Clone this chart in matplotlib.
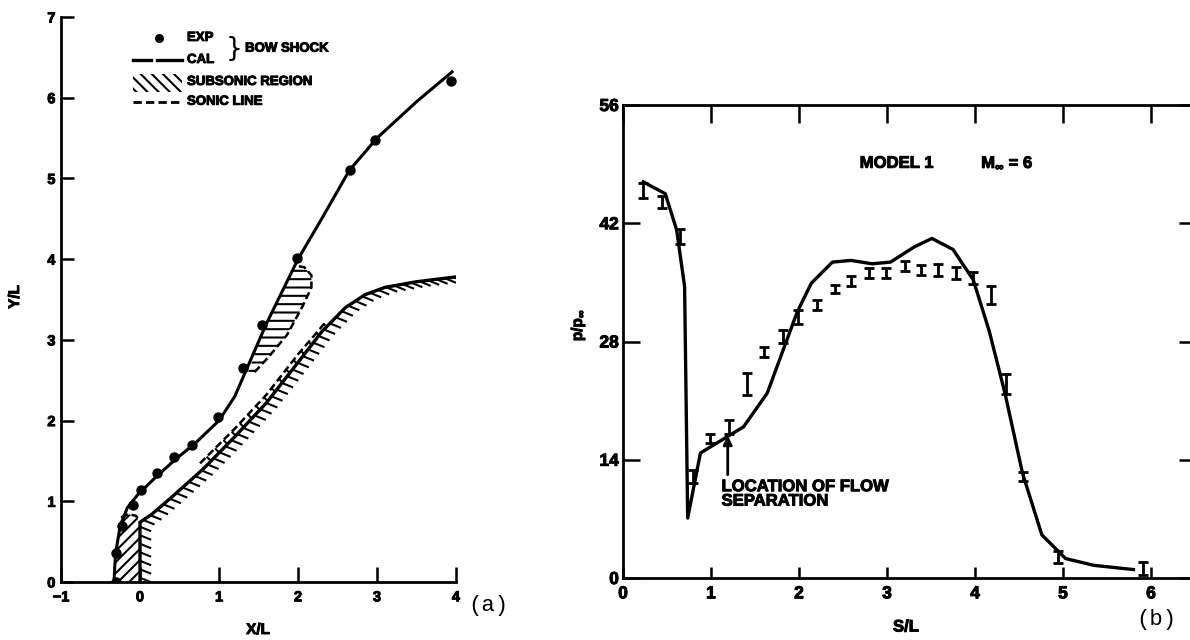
import matplotlib
matplotlib.use("Agg")
import numpy as np
import matplotlib.pyplot as plt
import matplotlib.patheffects as pe
from matplotlib.collections import LineCollection
from matplotlib.patches import Polygon, Rectangle

plt.rcParams['font.family'] = ['Liberation Sans', 'DejaVu Sans']
plt.rcParams['font.weight'] = 'bold'
plt.rcParams['hatch.linewidth'] = 1.5
plt.rcParams['mathtext.fontset'] = 'custom'
plt.rcParams['mathtext.rm'] = 'Liberation Sans:bold'
plt.rcParams['mathtext.it'] = 'Liberation Sans:bold'
plt.rcParams['mathtext.bf'] = 'Liberation Sans:bold'

HEAVY = [pe.withStroke(linewidth=0.7, foreground='black')]

# ---- panel (a): bow shock around the body ----
exp_x = [-0.31, -0.31, -0.23, -0.09, 0.01, 0.22, 0.43, 0.66, 0.99, 1.31, 1.55, 1.99, 2.66, 2.97, 3.94]
exp_y = [0.0, 0.36, 0.70, 0.95, 1.14, 1.35, 1.55, 1.70, 2.04, 2.65, 3.19, 4.02, 5.11, 5.47, 6.21]

cal_x = [-0.33, -0.31, -0.25, -0.16, -0.03, 0.2, 0.45, 0.7, 1.0, 1.2, 1.4, 1.6, 1.8, 2.0, 2.3, 2.65, 3.0, 3.5, 3.95]
cal_y = [0.0, 0.35, 0.7, 0.92, 1.08, 1.3, 1.52, 1.72, 2.0, 2.3, 2.75, 3.2, 3.6, 4.0, 4.5, 5.1, 5.5, 5.95, 6.32]

body_x = [0.0, 0.0, 0.15, 0.4, 0.8, 1.2, 1.6, 2.0, 2.3, 2.6, 2.85, 3.1, 3.5, 4.0]
body_y = [0.0, 0.74, 0.84, 1.05, 1.4, 1.8, 2.22, 2.72, 3.1, 3.4, 3.56, 3.65, 3.72, 3.78]

# subsonic pockets (outline) and sonic lines
subA_x = [-0.33, -0.31, -0.25, -0.24, -0.15, -0.05, 0.0, 0.0]
subA_y = [0.0, 0.35, 0.7, 0.8, 0.84, 0.82, 0.74, 0.0]
sonicA_x = [-0.24, -0.15, -0.05, 0.0]
sonicA_y = [0.8, 0.84, 0.82, 0.74]

subB_x = [1.35, 1.5, 1.6, 1.8, 1.96, 2.08, 2.17, 2.17, 2.06, 1.86, 1.62, 1.45]
subB_y = [2.55, 2.95, 3.2, 3.6, 3.92, 3.9, 3.8, 3.65, 3.42, 3.06, 2.78, 2.6]
sonicB_x = [1.45, 1.62, 1.86, 2.06, 2.17, 2.17, 2.08, 1.96]
sonicB_y = [2.6, 2.78, 3.06, 3.42, 3.65, 3.8, 3.9, 3.92]

sonicC_x = [0.76, 1.2, 1.6, 2.0, 2.35]
sonicC_y = [1.47, 1.9, 2.32, 2.82, 3.22]
bodyC_x = [2.35, 2.0, 1.6, 1.2, 0.8]
bodyC_y = [3.17, 2.72, 2.22, 1.8, 1.4]

xticks_a = [-1, 0, 1, 2, 3, 4]
yticks_a = [0, 1, 2, 3, 4, 5, 6, 7]

# ---- panel (b): surface pressure ----
cal_s = [0.23, 0.48, 0.61, 0.70, 0.735, 0.88, 1.37, 1.64, 1.82, 1.98, 2.14, 2.38, 2.59,
         2.83, 3.04, 3.31, 3.51, 3.75, 3.98, 4.16, 4.34, 4.54, 4.76, 5.03, 5.35, 5.80]
cal_p = [46.9, 45.5, 41.2, 34.5, 7.1, 14.8, 17.9, 21.9, 27.0, 31.5, 34.9, 37.4, 37.6,
         37.2, 37.4, 39.2, 40.2, 38.9, 35.3, 29.3, 21.9, 12.4, 5.1, 2.3, 1.5, 1.0]

exp_s = [0.23, 0.44, 0.65, 0.79, 0.99, 1.20, 1.41, 1.60, 1.82, 1.99, 2.20, 2.41, 2.59,
         2.80, 2.99, 3.21, 3.39, 3.58, 3.78, 3.98, 4.18, 4.35, 4.55, 4.94, 5.91]
exp_p = [45.9, 44.5, 40.4, 12.0, 16.5, 17.9, 23.0, 26.8, 28.6, 30.9, 32.3, 34.2, 35.2,
         36.1, 36.1, 36.9, 36.5, 36.5, 36.1, 35.5, 33.5, 23.0, 12.0, 2.5, 1.15]
exp_err = [0.9, 0.7, 0.9, 0.8, 0.5, 0.8, 1.3, 0.6, 0.8, 0.8, 0.6, 0.5, 0.6,
           0.6, 0.6, 0.6, 0.6, 0.7, 0.7, 0.7, 1.1, 1.2, 0.5, 0.7, 0.8]

xticks_b = [0, 1, 2, 3, 4, 5, 6]
yticks_b = [0, 14, 28, 42, 56]
separation_s = 1.19


def wall_ticks(ax, xs, ys, spacing=8.5, length=12.0, angle=-22.0):
    """short strokes along the solid wall, placed in pixel space"""
    pts = ax.transData.transform(np.column_stack([xs, ys]))
    seglen = np.hypot(*np.diff(pts, axis=0).T)
    cum = np.concatenate([[0.0], np.cumsum(seglen)])
    dist = np.arange(spacing / 2, cum[-1], spacing)
    px = np.interp(dist, cum, pts[:, 0])
    py = np.interp(dist, cum, pts[:, 1])
    d = np.array([np.cos(np.radians(angle)), np.sin(np.radians(angle))]) * length
    inv = ax.transData.inverted()
    segs = [inv.transform([(x, y), (x + d[0], y + d[1])]) for x, y in zip(px, py)]
    ax.add_collection(LineCollection(segs, colors='black', linewidths=1.5))


def heavy_ticklabels(ax):
    for lab in ax.get_xticklabels() + ax.get_yticklabels():
        lab.set_path_effects(HEAVY)


def main() -> None:
    fig = plt.figure(figsize=(11.9, 6.4), dpi=100)

    # ================= (a) =================
    ax = fig.add_axes([61 / 1190, 1 - 582 / 640, 395 / 1190, 565 / 640])
    ax.set_xlim(-1, 4)
    ax.set_ylim(0, 7)
    for side in ('top', 'right'):
        ax.spines[side].set_visible(False)
    for side in ('left', 'bottom'):
        ax.spines[side].set_linewidth(2.0)
    ax.set_xticks(xticks_a)
    ax.set_xticklabels(['\u22121' if t < 0 else str(t) for t in xticks_a])
    ax.set_yticks(yticks_a)
    ax.tick_params(axis='x', direction='in', length=11, width=1.8, pad=6, labelsize=10.5)
    ax.tick_params(axis='y', direction='in', length=9, width=1.8, pad=4, labelsize=10.5)
    heavy_ticklabels(ax)

    ax.plot(cal_x, cal_y, color='black', lw=2.2, solid_joinstyle='round', zorder=3)
    ax.plot(exp_x, exp_y, 'o', color='black', ms=6.5, zorder=4)
    ax.plot(body_x, body_y, color='black', lw=2.4, zorder=3)

    ax.add_patch(Polygon(np.column_stack([subA_x, subA_y]), closed=True, fill=False,
                         hatch='///', lw=0, zorder=2))
    ax.add_patch(Polygon(np.column_stack([subB_x, subB_y]), closed=True, fill=False,
                         hatch='--', lw=0, zorder=2))
    ax.add_patch(Polygon(np.column_stack([sonicC_x + bodyC_x, sonicC_y + bodyC_y]),
                         closed=True, fill=False, hatch='\\\\', lw=0, zorder=2))
    for sx, sy in ((sonicA_x, sonicA_y), (sonicB_x, sonicB_y), (sonicC_x, sonicC_y)):
        ax.plot(sx, sy, color='black', lw=1.8, dashes=(3, 1.5), zorder=3)

    fig.canvas.draw()
    wall_ticks(ax, body_x, body_y)

    # hand-drawn style key
    t = ax.transAxes
    ax.plot([0.248], [0.963], 'o', color='black', ms=5.5, transform=t, clip_on=False)
    ax.plot([0.182, 0.228], [0.924, 0.924], color='black', lw=2.4, transform=t,
            clip_on=False)
    ax.plot([0.243, 0.306], [0.924, 0.924], color='black', lw=2.4, transform=t,
            clip_on=False)
    ax.add_patch(Rectangle((0.182, 0.868), 0.124, 0.032, transform=t, fill=False,
                           hatch='\\\\\\', lw=0, clip_on=False))
    ax.plot([0.182, 0.306], [0.850, 0.850], color='black', lw=2.0, dashes=(3, 1.5),
            transform=t, clip_on=False)
    kw = dict(transform=t, fontsize=9.5, va='center', ha='left', path_effects=HEAVY)
    ax.text(0.319, 0.963, 'EXP', **kw)
    ax.text(0.319, 0.924, 'CAL', **kw)
    ax.text(0.418, 0.944, '}', transform=t, fontsize=19, va='center', ha='left',
            fontweight='normal', family='DejaVu Sans')
    ax.text(0.466, 0.944, 'BOW SHOCK', **kw)
    ax.text(0.319, 0.885, 'SUBSONIC REGION', **kw)
    ax.text(0.319, 0.850, 'SONIC LINE', **kw)

    fig.text(258 / 1190, 1 - 630 / 640, 'X/L', ha='center', va='center', fontsize=11,
             path_effects=HEAVY)
    fig.text(15 / 1190, 1 - 297 / 640, 'Y/L', ha='center', va='center', fontsize=11,
             rotation=90, path_effects=HEAVY)
    fig.text(488 / 1190, 1 - 605 / 640, '(a)', ha='center', va='center', fontsize=16,
             family='Liberation Mono', fontweight='normal')

    # ================= (b) =================
    bx = fig.add_axes([623 / 1190, 1 - 578 / 640, 567 / 1190, 473 / 640])
    bx.set_xlim(0, 567 / 88)
    bx.set_ylim(0, 56)
    bx.spines['right'].set_visible(False)
    for side in ('left', 'bottom', 'top'):
        bx.spines[side].set_linewidth(2.0)
    bx.set_xticks(xticks_b)
    bx.set_yticks(yticks_b)
    bx.xaxis.set_ticks_position('both')
    bx.yaxis.set_ticks_position('both')
    bx.tick_params(axis='x', direction='in', length=8, width=1.8, pad=6, labelsize=12.5,
                   top=True, labeltop=False)
    bx.tick_params(axis='y', direction='in', length=12, width=1.8, pad=3, labelsize=12.5,
                   right=True, labelright=False)
    for tk in bx.xaxis.get_major_ticks():
        tk.tick2line.set_markersize(13)
    for tk in bx.yaxis.get_major_ticks():
        tk.tick2line.set_markersize(8)
    heavy_ticklabels(bx)

    bx.plot(cal_s, cal_p, color='black', lw=2.4, solid_joinstyle='round', zorder=3)
    bx.errorbar(exp_s, exp_p, yerr=exp_err, fmt='none', ecolor='black', elinewidth=2,
                capsize=3.5, capthick=2, zorder=4)

    bx.text(2.69, 49.1, 'MODEL 1', fontsize=12, va='center', ha='left', path_effects=HEAVY)
    bx.text(4.07, 49.1, r'M$_{\infty}$ = 6', fontsize=12, va='center', ha='left',
            path_effects=HEAVY)
    bx.annotate('', xy=(separation_s, 17.2), xytext=(separation_s, 11.9),
                arrowprops=dict(arrowstyle='-|>', lw=2, color='black', mutation_scale=13))
    bx.text(1.12, 11.7, 'LOCATION OF FLOW\nSEPARATION', fontsize=12, va='top', ha='left',
            linespacing=0.95, path_effects=HEAVY)

    fig.text(906 / 1190, 1 - 627 / 640, 'S/L', ha='center', va='center', fontsize=12,
             path_effects=HEAVY)
    fig.text(578 / 1190, 1 - 325 / 640, r'p/p$_{\infty}$', ha='center', va='center',
             fontsize=11, rotation=90, path_effects=HEAVY)
    fig.text(1156 / 1190, 1 - 620 / 640, '(b)', ha='center', va='center', fontsize=16,
             family='Liberation Mono', fontweight='normal')

    fig.savefig('out.png', dpi=100)


if __name__ == "__main__":
    main()
